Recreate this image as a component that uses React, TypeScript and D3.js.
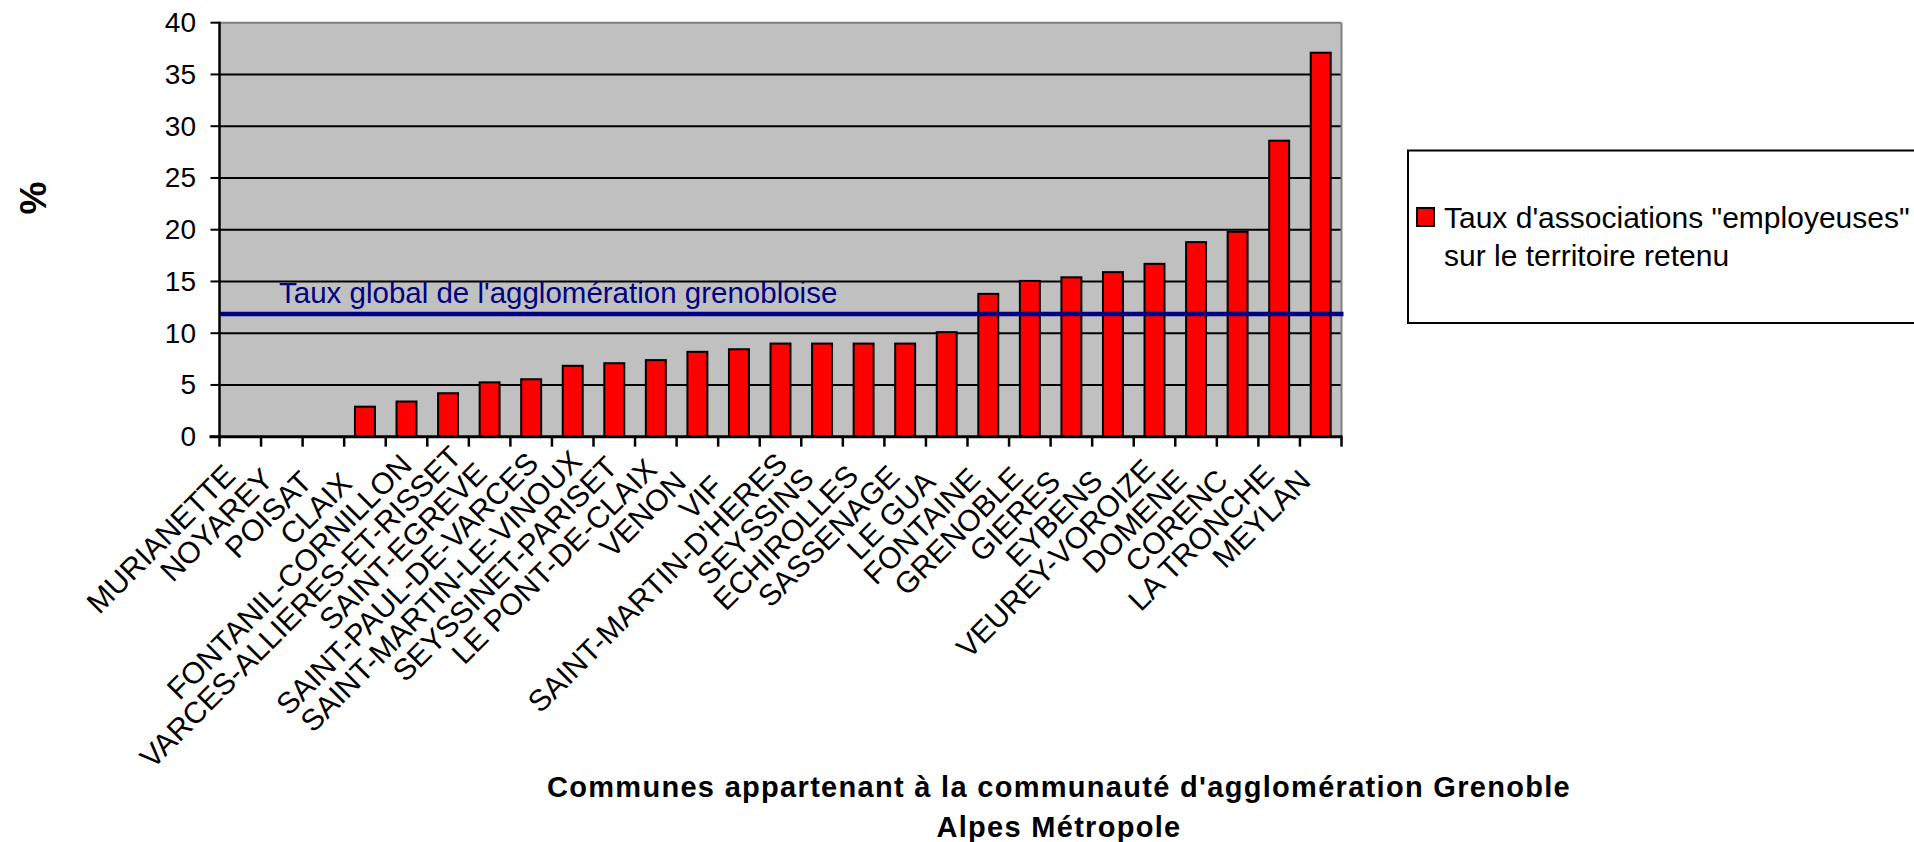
import React from "react";
import * as d3 from "d3";

const communes = [
  "MURIANETTE", "NOYAREY", "POISAT", "CLAIX", "FONTANIL-CORNILLON",
  "VARCES-ALLIERES-ET-RISSET", "SAINT-EGREVE", "SAINT-PAUL-DE-VARCES",
  "SAINT-MARTIN-LE-VINOUX", "SEYSSINET-PARISET", "LE PONT-DE-CLAIX", "VENON",
  "VIF", "SAINT-MARTIN-D'HERES", "SEYSSINS", "ECHIROLLES", "SASSENAGE",
  "LE GUA", "FONTAINE", "GRENOBLE", "GIERES", "EYBENS", "VEUREY-VOROIZE",
  "DOMENE", "CORENC", "LA TRONCHE", "MEYLAN",
];
const taux = [
  0, 0, 0, 2.9, 3.4, 4.2, 5.25, 5.55, 6.85, 7.1, 7.4, 8.2,
  8.45, 9.0, 9.0, 9.0, 9.0, 10.1, 13.8, 15.05, 15.4, 15.9, 16.7,
  18.8, 19.8, 28.6, 37.1,
];
const yTicks = [0, 5, 10, 15, 20, 25, 30, 35, 40];
const tauxGlobal = 11.85;
const seriesLabel = ["Taux d'associations \"employeuses\"", "sur le territoire retenu"];
const refLabel = "Taux global de l'agglomération grenobloise";
const yTitle = "%";
const xTitle = ["Communes appartenant à la communauté d'agglomération Grenoble", "Alpes Métropole"];

const W = 1914;
const H = 842;
const L = 219.5, R = 1341.5, T = 22.7, B = 436.7;
const FONT = "'Liberation Sans', Arial, sans-serif";
const LABEL_SIZE = 30;

let measureCtx: CanvasRenderingContext2D | null = null;
function textWidth(s: string, size: number): number {
  if (!measureCtx) {
    const c = document.createElement("canvas");
    measureCtx = c.getContext("2d");
  }
  if (!measureCtx) return s.length * size * 0.62;
  measureCtx.font = `${size}px 'Liberation Sans', Arial, sans-serif`;
  return measureCtx.measureText(s).width;
}

export default function App() {
  const x = d3.scaleBand<string>().domain(communes).range([L, R]).paddingInner(0).paddingOuter(0);
  const y = d3.scaleLinear().domain([0, 40]).range([B, T]);
  const bw = x.bandwidth();
  const barW = bw * 0.48;
  const boundaries = d3.range(communes.length + 1).map((i) => L + i * bw);
  const k = Math.SQRT1_2;

  return (
    <svg width={W} height={H} style={{ position: "absolute", left: 0, top: 0, display: "block" }} fontFamily={FONT}>
      <rect x={0} y={0} width={W} height={H} fill="#ffffff" />
      <rect x={L} y={T} width={R - L} height={B - T} fill="#c0c0c0" />
      {yTicks.filter((t) => t > 0 && t < 40).map((t) => (
        <line key={"g" + t} x1={L} x2={R} y1={y(t)} y2={y(t)} stroke="#000" strokeWidth={2} />
      ))}
      <line x1={L} x2={R} y1={y(40)} y2={y(40)} stroke="#808080" strokeWidth={2} />
      <line x1={R} x2={R} y1={T} y2={B} stroke="#808080" strokeWidth={2} />
      {communes.map((c, i) => {
        const v = taux[i];
        if (v <= 0) return null;
        const cx = (x(c) as number) + bw / 2;
        return (
          <rect key={"b" + c} x={cx - barW / 2} y={y(v)} width={barW} height={y(0) - y(v)}
            fill="#ff0000" stroke="#000" strokeWidth={2} />
        );
      })}
      <line x1={L} x2={R + 2} y1={y(tauxGlobal)} y2={y(tauxGlobal)} stroke="#000080" strokeWidth={4.5} />
      <text x={279} y={y(tauxGlobal) - 11} fill="#000080" fontSize={29.5}>{refLabel}</text>
      {/* y axis */}
      <line x1={L} x2={L} y1={T - 1} y2={B} stroke="#000" strokeWidth={2.5} />
      {yTicks.map((t) => (
        <g key={"yt" + t}>
          <line x1={L - 9} x2={L} y1={y(t)} y2={y(t)} stroke="#000" strokeWidth={2} />
          <text x={196} y={y(t)} textAnchor="end" dominantBaseline="central" fontSize={28} fill="#000">{t}</text>
        </g>
      ))}
      {/* x axis */}
      <line x1={L - 10} x2={R + 1} y1={B} y2={B} stroke="#000" strokeWidth={3} />
      {boundaries.map((bx, i) => (
        <line key={"xt" + i} x1={bx} x2={bx} y1={B} y2={B + 10} stroke="#000" strokeWidth={2.5} />
      ))}
      {communes.map((c) => {
        const cx = (x(c) as number) + bw / 2;
        const w = textWidth(c, LABEL_SIZE);
        const s = -51.5 + 0.106 * w;
        const p = 16;
        const ax = cx + k * (s + p);
        const ay = B + k * (p - s);
        return (
          <text key={"xl" + c} x={ax} y={ay} dy="0.35em" textAnchor="end" fontSize={LABEL_SIZE} fill="#000"
            transform={`rotate(-45 ${ax} ${ay})`}>{c}</text>
        );
      })}
      {/* titles */}
      <text x={0} y={0} transform="translate(46 198) rotate(-90)" textAnchor="middle" fontSize={37} fontWeight="bold">{yTitle}</text>
      <text x={1059} y={797} textAnchor="middle" fontSize={29} fontWeight="bold" letterSpacing={1.3}>{xTitle[0]}</text>
      <text x={1059} y={837} textAnchor="middle" fontSize={29} fontWeight="bold" letterSpacing={1.3}>{xTitle[1]}</text>
      {/* legend */}
      <rect x={1408} y={150.5} width={540} height={172.5} fill="#fff" stroke="#000" strokeWidth={2} />
      <rect x={1417} y={208} width={17} height={18} fill="#ff0000" stroke="#000" strokeWidth={2} />
      <text x={1444} y={228} fontSize={30} fill="#000">{seriesLabel[0]}</text>
      <text x={1444} y={266} fontSize={30} fill="#000">{seriesLabel[1]}</text>
    </svg>
  );
}
